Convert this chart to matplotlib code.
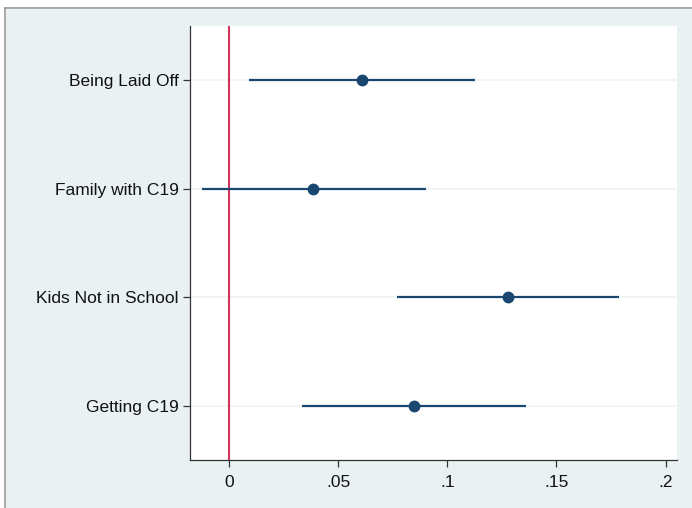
import matplotlib
matplotlib.use("Agg")
import matplotlib.pyplot as plt
from matplotlib.lines import Line2D

categories = ["Being Laid Off", "Family with C19", "Kids Not in School", "Getting C19"]
estimates = [0.0609, 0.0386, 0.1277, 0.0847]
ci_low = [0.0092, -0.0124, 0.0771, 0.0334]
ci_high = [0.1126, 0.0902, 0.1785, 0.1359]
xticks = [0, 0.05, 0.1, 0.15, 0.2]
xticklabels = ["0", ".05", ".1", ".15", ".2"]

plt.rcParams['font.family'] = ['Liberation Sans', 'DejaVu Sans']

bg = '#EAF1F3'
navy = '#1A476F'
fig = plt.figure(figsize=(6.92, 5.08), dpi=100, facecolor=bg)
ax = fig.add_axes([190/692, 1-460/508, (677-190)/692, (460-26)/508])
ax.set_facecolor('white')

n = len(categories)
ypos = [n - i for i in range(n)]

for y in ypos:
    ax.axhline(y, color='#EEF3F5', lw=1.2, zorder=0)
ax.axvline(0, color='#D0345A', lw=1.5, zorder=1)

ax.hlines(ypos, ci_low, ci_high, color=navy, lw=1.6, zorder=2)
ax.plot(estimates, ypos, 'o', color=navy, markersize=7.5, zorder=3, linestyle='none')

ax.set_xlim(-0.01785, 0.2052)
ax.set_ylim(0.5, n + 0.5)
ax.set_yticks(ypos)
ax.set_yticklabels(categories)
ax.set_xticks(xticks)
ax.set_xticklabels(xticklabels)
ax.tick_params(axis='both', labelsize=12.5, length=5, width=0.9, color='#333333', labelcolor='#111111')
ax.tick_params(axis='x', pad=6)
ax.tick_params(axis='y', pad=3)
for s in ['top', 'right']:
    ax.spines[s].set_visible(False)
for s in ['left', 'bottom']:
    ax.spines[s].set_color('#333333')
    ax.spines[s].set_linewidth(0.9)

# outer frame lines (top and left)
fig.add_artist(Line2D([5/692, 1], [1-8/508, 1-8/508], transform=fig.transFigure, color='#999999', lw=1.2))
fig.add_artist(Line2D([5/692, 5/692], [0, 1-8/508], transform=fig.transFigure, color='#999999', lw=1.2))
# white area outside frame
fig.patches.append(plt.Rectangle((0, 1-8/508), 1, 8/508, transform=fig.transFigure, color='white', zorder=-1))
fig.patches.append(plt.Rectangle((0, 0), 5/692, 1, transform=fig.transFigure, color='white', zorder=-1))

fig.savefig("out.png", dpi=100, facecolor=bg)
